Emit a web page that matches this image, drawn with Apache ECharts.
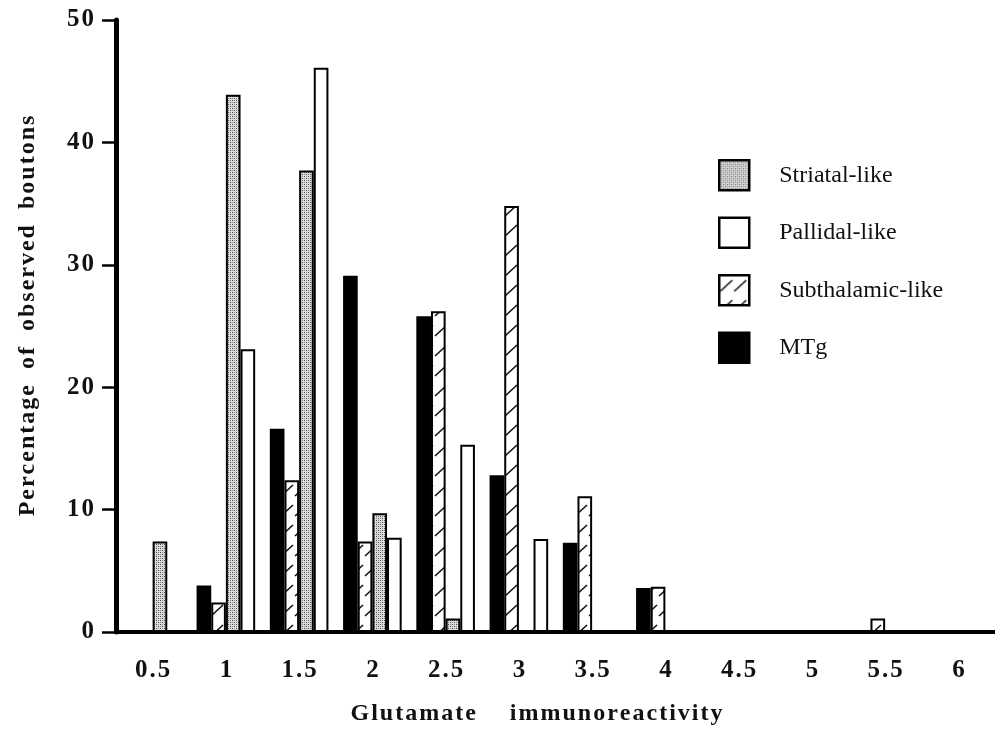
<!DOCTYPE html>
<html>
<head>
<meta charset="utf-8">
<script src="https://cdn.jsdelivr.net/npm/echarts@6/dist/echarts.min.js"></script>
<style>
html,body{margin:0;padding:0;background:#fff;}
#chart{width:995px;height:732px;}
</style>
</head>
<body>
<div id="chart"></div>
<script>
// ---- data ----
const categories = ['0.5','1','1.5','2','2.5','3','3.5','4','4.5','5','5.5','6'];
const mtg        = [null, 3.8, 16.6, 29.1, 25.8, 12.8, 7.3, 3.6, null, null, null, null];
const subthal    = [null, 2.4, 12.4, 7.4, 26.2, 34.8, 11.1, 3.7, null, null, 1.1, null];
const striatal   = [7.4, 43.9, 37.7, 9.7, 1.1, null, null, null, null, null, null, null];
const pallidal   = [null, 23.1, 46.1, 7.7, 15.3, 7.6, null, null, null, null, null, null];
const yTicks = [0, 10, 20, 30, 40, 50];
const seriesNames = ['MTg', 'Subthalamic-like', 'Striatal-like', 'Pallidal-like'];
const legendOrder = ['Striatal-like', 'Pallidal-like', 'Subthalamic-like', 'MTg'];
const xTitle = ['Glutamate', 'immunoreactivity'];
const yTitle = ['Percentage', 'of', 'observed', 'boutons'];

const serif = '"Liberation Serif", "Times New Roman", serif';

// letter spacing emulation (scanned bold type is spaced out)
function pickSpacer(fontCss, target) {
  const ctx = document.createElement('canvas').getContext('2d');
  ctx.font = fontCss;
  const base = ctx.measureText('aa').width;
  const cands = ['\u200A', '\u2009', '\u2006', '\u2005', '\u2008'];
  let best = '', err = target;
  for (const c of cands) {
    const w = ctx.measureText('a' + c + 'a').width - base;
    if (w > 0 && Math.abs(w - target) < err) { err = Math.abs(w - target); best = c; }
  }
  return best;
}
const spLabel = pickSpacer('bold 25px ' + serif, 1.6);
const spName = pickSpacer('bold 24px ' + serif, 1.6);
const spaced = (s, sp) => Array.from(s).join(sp);

// ---- patterns ----
function dotPattern(){
  const c = document.createElement('canvas'); c.width = 4; c.height = 4;
  const g = c.getContext('2d');
  g.fillStyle = '#dcdcdc'; g.fillRect(0,0,4,4);
  g.fillStyle = '#4a4a4a'; g.fillRect(0,0,1,1); g.fillRect(2,2,1,1);
  g.fillStyle = '#8a8a8a'; g.fillRect(2,0,1,1); g.fillRect(0,2,1,1);
  return c;
}
function hatchPattern(){
  const c = document.createElement('canvas'); c.width = 14; c.height = 20;
  const g = c.getContext('2d');
  g.fillStyle = '#fff'; g.fillRect(0,0,14,20);
  g.strokeStyle = '#111'; g.lineWidth = 1.6;
  g.beginPath(); g.moveTo(1,16); g.lineTo(13,5); g.stroke();
  return c;
}
const fills = {
  'MTg': '#000',
  'Subthalamic-like': {image: hatchPattern(), repeat: 'repeat'},
  'Striatal-like': {image: dotPattern(), repeat: 'repeat'},
  'Pallidal-like': '#fff'
};
const values = {'MTg': mtg, 'Subthalamic-like': subthal, 'Striatal-like': striatal, 'Pallidal-like': pallidal};

const chart = echarts.init(document.getElementById('chart'), null, {renderer: 'canvas'});
chart.setOption({
  animation: false,
  backgroundColor: '#fff',
  grid: {left: 116, right: -3, top: 20, bottom: 100, containLabel: false},
  legend: {
    orient: 'vertical', left: 713, top: 154,
    icon: 'rect',
    itemWidth: 30, itemHeight: 30, itemGap: 25,
    data: legendOrder,
    itemStyle: {borderColor: '#000', borderWidth: 2.5},
    textStyle: {fontFamily: serif, fontSize: 24, color: '#111', padding: [0,0,0,25]},
    selectedMode: false
  },
  xAxis: {
    type: 'category', data: categories, boundaryGap: true,
    name: xTitle.map(w => spaced(w, spName)).join(spName + '     ' + spName),
    nameLocation: 'middle', nameGap: 70,
    nameTextStyle: {fontFamily: serif, fontWeight: 'bold', fontSize: 24, color: '#111', padding: [0, 38, 0, 0]},
    axisLine: {lineStyle: {color: '#000', width: 4}},
    axisTick: {alignWithLabel: true, length: 14, lineStyle: {color: '#000', width: 2.5}},
    axisLabel: {fontFamily: serif, fontWeight: 'bold', fontSize: 25, color: '#111', margin: 26,
      formatter: v => spaced(v, spLabel)}
  },
  yAxis: {
    type: 'value', min: 0, max: 50, interval: 10,
    name: yTitle.map(w => spaced(w, spName)).join(spName + '  ' + spName),
    nameLocation: 'middle', nameGap: 76,
    nameTextStyle: {fontFamily: serif, fontWeight: 'bold', fontSize: 24, color: '#111', padding: [0, 0, 0, 20]},
    axisLine: {show: true, lineStyle: {color: '#000', width: 5}},
    axisTick: {show: true, length: 14, lineStyle: {color: '#000', width: 2.5}},
    axisLabel: {fontFamily: serif, fontWeight: 'bold', fontSize: 25, color: '#111', margin: 22,
      formatter: v => yTicks.includes(v) ? spaced(String(v), spLabel) : ''},
    splitLine: {show: false}
  },
  series: seriesNames.map(n => ({
    name: n, type: 'bar', data: values[n], barWidth: '20%', barGap: '0%',
    itemStyle: {color: fills[n], borderColor: '#000', borderWidth: 2}
  }))
});
</script>
</body>
</html>
